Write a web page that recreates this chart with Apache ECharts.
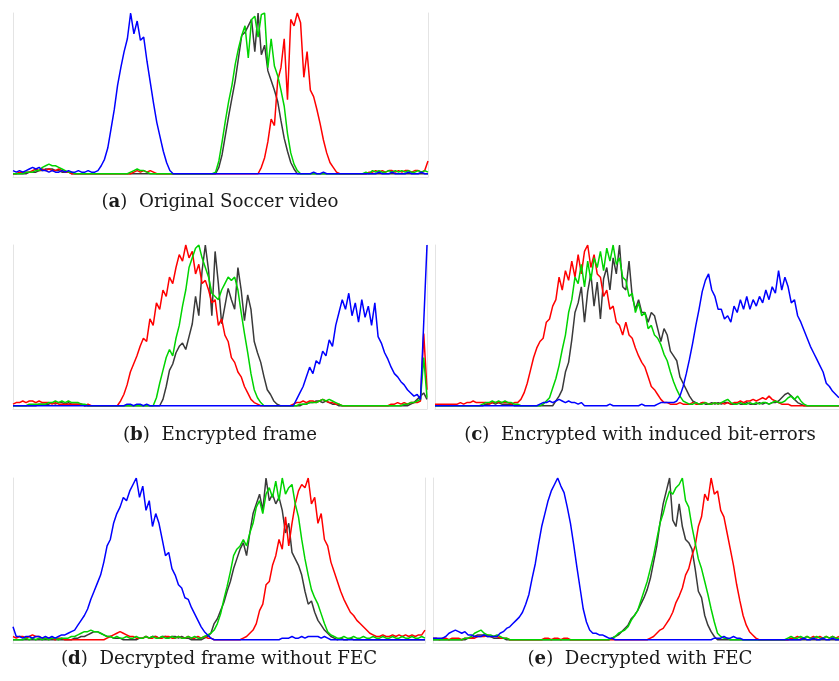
<!DOCTYPE html>
<html><head><meta charset="utf-8">
<script src="https://cdn.jsdelivr.net/npm/echarts@6/dist/echarts.min.js"></script>
<style>html,body{margin:0;padding:0;background:#fff}#c{width:839px;height:681px}</style>
</head><body><div id="c"></div>
<script>
// histogram bins (every second intensity level, 0..254)
const bins = [0,2,4,6,8,10,12,14,16,18,20,22,24,26,28,30,32,34,36,38,40,42,44,46,48,50,52,54,56,58,60,62,64,66,68,70,72,74,76,78,80,82,84,86,88,90,92,94,96,98,100,102,104,106,108,110,112,114,116,118,120,122,124,126,128,130,132,134,136,138,140,142,144,146,148,150,152,154,156,158,160,162,164,166,168,170,172,174,176,178,180,182,184,186,188,190,192,194,196,198,200,202,204,206,208,210,212,214,216,218,220,222,224,226,228,230,232,234,236,238,240,242,244,246,248,250,252,254];

const panelLetters = ['a','b','c','d','e'];
const panelTitles = ['Original Soccer video','Encrypted frame','Encrypted with induced bit-errors','Decrypted frame without FEC','Decrypted with FEC'];

// (a) Original Soccer video
const aBlue = [2,1,2,1,2,3,4,3,4,2, 2,1,2,1,1,2,1,2,1,1, 2,1,1,2,1,1,2,5,9,16, 28,40,55,66,76,84,100,87,95,83, 85,70,57,44,32,23,14,7,2,0, 0,0,0,0,0,0,0,0,0,0, 0,0,0,0,0,0,0,0,0,0, 0,0,0,0,0,0,0,0,0,0, 0,0,0,0,0,0,0,0,0,0, 0,0,1,0,0,1,0,0,0,0, 0,0,0,0,0,0,0,0,0,0, 0,0,1,0,0,0,1,0,0,0, 0,1,0,0,0,1,0,0];
const aGreen = [0,0,0,0,1,1,1,2,2,4, 5,6,5,5,4,3,2,1,1,0, 0,0,0,0,0,0,0,0,0,0, 0,0,0,0,0,0,1,2,3,2, 2,1,0,0,0,0,0,0,0,0, 0,0,0,0,0,0,0,0,0,0, 0,0,1,8,20,33,45,55,68,78, 86,92,72,96,98,85,99,100,66,84, 67,61,52,42,25,13,6,2,0,0, 0,0,0,0,0,0,0,0,0,0, 0,0,0,0,0,0,0,0,1,0, 2,1,2,1,1,2,1,2,1,2, 1,2,1,1,2,1,2,1];
const aGray = [0,0,0,0,0,1,1,1,2,2, 3,3,3,2,2,1,1,1,0,0, 0,0,0,0,0,0,0,0,0,0, 0,0,0,0,0,0,0,0,0,0, 0,0,0,0,0,0,0,0,0,0, 0,0,0,0,0,0,0,0,0,0, 0,0,0,4,12,24,36,47,58,72, 86,88,92,96,76,100,74,80,64,58, 52,45,33,22,14,7,3,0,0,0, 0,0,0,0,0,0,0,0,0,0, 0,0,0,0,0,0,0,0,0,0, 0,0,0,0,0,0,0,0,0,0, 0,0,0,0,0,0,0,0];
const aRed = [0,0,1,1,1,1,2,3,2,3, 2,3,2,2,3,2,1,1,0,0, 0,0,0,0,0,0,0,0,0,0, 0,0,0,0,0,0,0,1,2,1, 2,1,2,1,0,0,0,0,0,0, 0,0,0,0,0,0,0,0,0,0, 0,0,0,0,0,0,0,0,0,0, 0,0,0,0,0,0,4,10,20,34, 30,58,66,84,46,96,92,100,94,60, 76,52,48,40,31,21,13,7,4,1, 0,0,0,0,0,0,0,0,0,1, 1,2,1,2,1,2,2,1,2,1, 2,2,1,2,2,1,2,8];

// (b) Encrypted frame
const bBlue = [0,0,0,0,0,0,0,0,0,0, 0,0,0,0,0,0,0,0,0,0, 0,0,0,0,0,0,0,0,0,0, 0,0,0,0,0,1,1,0,1,1, 0,1,0,0,0,0,0,0,0,0, 0,0,0,0,0,0,0,0,0,0, 0,0,0,0,0,0,0,0,0,0, 0,0,0,0,0,0,0,0,0,0, 0,0,0,0,0,0,0,4,8,12, 18,24,20,28,26,34,31,41,37,50, 58,66,60,70,56,64,52,66,55,62, 50,64,43,39,33,29,24,20,18,15, 13,10,8,6,7,4,52,100];
const bRed = [1,2,2,3,2,3,3,2,3,2, 2,2,1,2,1,1,1,1,1,1, 1,1,0,1,0,0,0,0,0,0, 0,0,0,3,7,13,21,26,31,37, 42,40,54,50,64,60,72,68,80,76, 86,94,90,100,92,96,82,88,76,78, 72,64,66,50,54,44,40,30,27,21, 18,12,8,4,2,1,0,0,0,0, 0,0,0,0,0,0,1,2,2,3, 2,3,3,2,3,4,3,2,2,1, 1,0,0,0,0,0,0,0,0,0, 0,0,0,0,0,0,1,1,2,1, 2,1,2,2,2,3,45,10];
const bGreen = [0,0,0,0,0,1,1,1,1,1, 1,2,2,3,2,3,2,3,2,2, 2,1,1,0,0,0,0,0,0,0, 0,0,0,0,0,0,0,0,0,0, 0,0,0,0,5,14,22,30,35,31, 42,50,62,72,86,92,98,100,92,86, 80,70,68,66,72,76,80,78,80,72, 58,45,33,20,10,5,2,0,0,0, 0,0,0,0,0,0,0,0,1,1, 1,2,2,2,3,4,3,4,3,2, 1,0,0,0,0,0,0,0,0,0, 0,0,0,0,0,0,0,0,0,0, 1,1,2,2,3,4,30,5];
const bGray = [0,0,0,0,0,0,0,0,1,1, 1,1,2,1,2,2,1,2,1,1, 1,1,0,0,0,0,0,0,0,0, 0,0,0,0,0,0,0,0,0,0, 0,0,0,0,0,0,4,12,22,26, 33,37,39,35,43,51,68,56,84,100, 84,56,96,76,51,62,73,66,60,86, 72,53,69,60,40,33,27,18,10,7, 3,1,0,0,0,0,0,0,0,1, 1,2,2,3,3,2,3,2,1,1, 0,0,0,0,0,0,0,0,0,0, 0,0,0,0,0,0,0,0,0,0, 0,0,1,2,4,6,8,4];

// (c) Encrypted with induced bit-errors
const cBlue = [0,0,0,0,0,0,0,0,0,0, 0,0,0,0,0,0,0,0,0,0, 0,0,0,0,0,0,0,0,0,0, 0,0,0,1,2,2,3,2,3,4, 3,2,3,2,2,1,2,0,0,0, 0,0,0,0,0,1,0,0,0,0, 0,0,0,0,0,1,0,0,0,0, 1,2,2,2,2,2,3,6,12,20, 29,39,50,60,71,78,82,72,68,60, 60,54,56,52,62,58,66,60,68,60, 66,62,68,64,72,66,74,70,84,72, 80,74,64,66,56,52,47,42,37,33, 29,25,21,14,12,9,7,5];
const cRed = [1,1,1,1,1,1,1,1,2,1, 2,2,3,2,2,2,2,1,2,2, 2,2,2,2,1,2,2,4,8,14, 22,30,36,40,42,52,54,62,66,80, 72,84,78,90,80,94,82,96,100,86, 94,82,80,68,72,60,62,52,50,44, 52,44,42,36,31,27,24,18,12,10, 7,4,2,2,1,1,1,2,1,1, 1,2,1,1,2,2,1,1,2,1, 2,1,2,1,2,2,3,2,3,3, 4,3,4,5,4,6,4,3,2,1, 1,1,0,0,0,0,0,0,0,0, 0,0,0,0,0,0,0,0];
const cGreen = [0,0,0,0,0,0,0,0,0,0, 0,0,0,0,0,1,2,2,3,2, 3,2,3,2,2,1,1,0,0,0, 0,0,0,0,1,3,5,11,17,25, 35,44,58,66,80,76,88,74,90,78, 92,86,96,84,98,90,100,88,92,80, 78,68,70,58,64,56,58,48,50,44, 42,38,32,28,21,15,10,6,3,2, 1,1,2,1,1,2,1,1,2,1, 2,3,4,2,1,1,2,1,1,2, 1,2,1,2,2,1,2,3,2,2, 3,5,6,4,6,3,1,0,0,0, 0,0,0,0,0,0,0,0];
const cGray = [0,0,0,0,0,0,0,0,0,0, 0,0,0,0,0,0,1,1,2,1, 2,1,1,1,1,0,0,0,0,0, 0,0,0,0,0,0,0,0,3,6, 10,21,27,41,58,64,74,52,71,82, 62,77,54,79,86,72,92,82,100,74, 72,90,68,60,66,58,58,52,58,56, 48,40,48,44,34,31,28,18,14,10, 6,3,2,1,2,1,1,2,1,2, 1,2,2,1,1,2,1,1,2,1, 1,1,2,1,2,1,2,2,3,5, 7,8,6,4,2,1,0,0,0,0, 0,0,0,0,0,0,0,0];

// (d) Decrypted frame without FEC
const dBlue = [8,2,2,1,2,2,1,2,2,1, 2,1,2,1,2,3,3,4,5,6, 9,12,15,19,25,30,35,40,48,58, 62,72,78,82,88,86,92,96,100,88, 95,80,86,70,78,72,62,52,54,44, 40,34,32,26,25,20,16,12,8,5, 3,1,0,0,0,0,0,0,0,0, 0,0,0,0,0,0,0,0,0,0, 0,0,0,1,1,1,2,1,1,2, 1,2,2,2,2,1,2,1,0,0, 0,0,0,0,0,0,0,0,0,0, 0,0,0,0,0,0,0,0,0,0, 0,0,0,0,0,0,0,0];
const dGreen = [0,0,0,0,1,0,1,0,1,0, 1,0,1,1,0,1,1,1,2,2, 3,4,5,5,6,5,5,4,3,2, 2,1,2,1,1,2,1,1,2,1, 1,2,1,2,1,1,2,1,1,2, 1,2,1,1,2,1,2,1,1,2, 3,4,6,10,16,25,33,42,52,56, 58,62,58,66,72,82,86,78,90,94, 88,98,86,100,90,94,96,84,76,62, 50,40,31,26,22,16,10,5,3,2, 1,1,2,1,1,2,1,1,2,1, 1,2,1,1,2,1,1,2,1,1, 2,1,1,2,1,1,2,1];
const dGray = [0,0,0,0,0,0,0,0,0,0, 0,0,0,0,0,0,0,0,0,1, 1,2,2,3,4,5,5,4,3,2, 2,1,1,1,0,0,0,0,0,1, 1,2,1,2,2,1,2,2,1,2, 2,1,2,1,1,0,0,0,0,1, 2,4,10,13,18,23,30,36,44,50, 56,60,52,66,78,84,90,80,100,86, 90,84,88,80,66,72,54,50,46,40, 30,22,24,17,12,9,6,4,2,1, 0,1,0,0,1,0,0,0,0,0, 0,0,0,0,0,0,0,0,0,0, 0,0,0,0,0,0,0,0];
const dRed = [2,1,2,2,1,2,3,2,2,1, 1,1,1,0,1,1,0,0,0,0, 0,0,0,0,0,0,0,0,0,1, 2,3,4,5,4,3,2,2,1,1, 1,2,1,1,2,1,1,2,2,1, 1,2,1,1,2,1,1,2,1,2, 1,1,0,0,0,0,0,0,0,0, 0,1,2,4,6,10,18,22,34,36, 46,52,62,56,76,58,72,84,92,96, 94,100,84,88,72,78,62,58,48,42, 36,30,25,21,17,15,12,10,8,6, 4,3,2,2,3,2,2,3,2,3, 2,3,2,3,2,3,3,6];

// (e) Decrypted with FEC
const eBlue = [1,1,1,1,2,4,5,6,5,4, 5,3,3,2,2,2,3,2,2,2, 2,4,5,7,8,10,12,14,17,22, 28,38,47,59,70,78,86,92,96,100, 95,91,82,72,59,45,32,19,11,6, 4,4,3,3,2,1,1,0,0,0, 0,0,0,0,0,0,0,0,0,0, 0,0,0,0,0,0,0,0,0,0, 0,0,0,0,0,0,0,0,1,1, 1,2,1,1,2,1,1,0,0,0, 0,0,0,0,0,0,0,0,0,0, 0,0,0,0,0,0,1,0,0,1, 0,0,1,0,0,1,0,0];
const eGreen = [0,0,0,0,0,0,0,0,0,0, 1,1,2,4,5,6,4,3,3,2, 3,2,1,1,0,0,0,0,0,0, 0,0,0,0,0,0,0,0,0,0, 0,0,0,0,0,0,0,0,0,0, 0,0,0,0,0,0,1,2,4,5, 6,8,12,15,18,24,30,36,44,52, 62,72,78,86,92,90,94,96,100,86, 82,70,60,50,44,36,28,19,11,4, 2,1,1,0,0,0,0,0,0,0, 0,0,0,0,0,0,0,0,0,0, 0,1,2,1,1,2,1,2,1,1, 2,1,1,2,1,2,1,1];
const eGray = [0,0,0,0,0,0,0,0,0,0, 0,1,1,2,3,3,3,2,2,1, 1,1,1,0,0,0,0,0,0,0, 0,0,0,0,0,0,0,0,0,0, 0,0,0,0,0,0,0,0,0,0, 0,0,0,0,0,0,1,2,3,5, 7,9,13,15,18,22,26,31,38,48, 58,72,84,92,100,74,70,84,70,62, 60,56,44,30,26,15,9,5,2,0, 0,0,0,0,0,0,0,0,0,0, 0,0,0,0,0,0,0,0,0,0, 0,0,0,0,0,0,0,0,0,0, 0,0,0,0,0,0,0,0];
const eRed = [1,1,0,1,1,0,1,1,1,0, 1,1,1,1,2,2,2,3,2,2, 2,1,1,1,0,0,0,0,0,0, 0,0,0,0,0,1,1,0,1,1, 0,1,1,0,0,0,0,0,0,0, 0,0,0,0,0,0,0,0,0,0, 0,0,0,0,0,0,0,0,1,2, 4,6,7,10,13,17,23,27,32,40, 44,52,58,70,76,90,86,100,90,92, 80,76,66,56,46,34,24,15,9,5, 3,1,0,0,0,0,0,0,0,0, 0,0,1,1,2,1,1,2,1,2, 1,2,1,2,1,2,1,2];

const panelSeries = [
  [aGray, aRed, aGreen, aBlue],
  [bGray, bRed, bGreen, bBlue],
  [cGray, cRed, cGreen, cBlue],
  [dGray, dRed, dGreen, dBlue],
  [eGray, eRed, eGreen, eBlue]
];
const seriesNames = ['Gray','Red','Green','Blue'];
const seriesColors = ['#3a3a3a','#ff0000','#00d400','#0000ff'];

const layouts = [
  {left:13, top:13, width:415, height:164, cx:220, cy:202},
  {left:13, top:245, width:414, height:164, cx:220, cy:435},
  {left:435, top:245, width:414, height:164, cx:640, cy:435},
  {left:13, top:478, width:412, height:165, cx:219, cy:659},
  {left:433, top:478, width:414, height:165, cx:640, cy:659}
];

const borderColor = '#e4e4e4';
const captionFont = 'DejaVu Serif';
const captionSize = 18.2;
const grid = [], xAxis = [], yAxis = [], series = [], graphic = [];
layouts.forEach((L, k) => {
  grid.push({left:L.left, top:L.top, width:L.width, height:L.height, containLabel:false});
  xAxis.push({gridIndex:k, type:'category', data:bins, boundaryGap:false,
    axisLine:{show:true, onZero:false, lineStyle:{color:borderColor, width:1}},
    axisTick:{show:false}, axisLabel:{show:false}, splitLine:{show:false}});
  ['left','right'].forEach(pos => {
    yAxis.push({gridIndex:k, type:'value', min:-2, max:100, position:pos,
      axisLine:{show:true, onZero:false, lineStyle:{color:borderColor, width:1}},
      axisTick:{show:false}, axisLabel:{show:false}, splitLine:{show:false}});
  });
  panelSeries[k].forEach((arr, j) => {
    series.push({type:'line', name:seriesNames[j], xAxisIndex:k, yAxisIndex:2*k, data:arr,
      showSymbol:false, symbol:'none', silent:true, animation:false,
      lineStyle:{color:seriesColors[j], width:1.5}, itemStyle:{color:seriesColors[j]}});
  });
  graphic.push({type:'text', x:L.cx, y:L.cy, silent:true,
    style:{text:'(' + '{b|' + panelLetters[k] + '}' + ')  ' + panelTitles[k],
      fontFamily:captionFont, fontSize:captionSize, fill:'#1a1a1a', align:'center', verticalAlign:'middle',
      rich:{b:{fontFamily:captionFont, fontSize:captionSize, fontWeight:'bold', fill:'#1a1a1a'}}}});
});

const chart = echarts.init(document.getElementById('c'), null, {renderer:'canvas'});
chart.setOption({backgroundColor:'#ffffff', animation:false, grid, xAxis, yAxis, series, graphic});
</script>
</body></html>
